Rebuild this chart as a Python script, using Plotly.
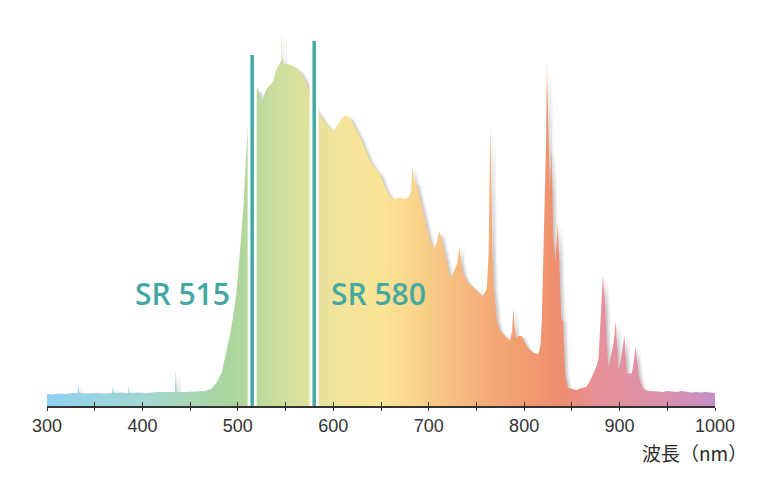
import plotly.graph_objects as go

# spectrum (wavelength nm, relative intensity in arbitrary units)
wavelength = [
    300, 305, 312, 320, 327, 332, 333, 334, 340, 350, 360, 368, 369, 370, 378,
    385, 385.6, 386.5, 395, 405, 415, 425, 434, 435, 436, 445, 455, 465, 472,
    478, 483, 487, 492, 496, 499, 502, 504, 506, 508, 510, 511.5, 513, 515, 517,
    521, 523.5, 525, 527, 530, 534, 537, 539, 541, 544, 545.5, 546, 546.6, 548,
    552, 558, 565, 570, 574, 577, 580, 583, 586, 590, 593, 597, 600, 603, 605,
    608, 610.6, 614, 617.6, 621, 624.6, 630, 635, 638.6, 644, 649, 652, 656,
    660, 663, 667, 671, 675, 679, 681.5, 683, 685, 687.5, 691, 694.5, 698,
    701.5, 704, 706.7, 709, 711, 713, 717, 720, 723, 725.5, 727.6, 730, 732,
    734, 736.4, 740, 743, 747, 750, 754, 757, 761, 762.8, 763.6, 764.6, 765.5,
    766.5, 768, 771.4, 775, 778, 782, 785, 787.5, 788.6, 790, 791.6, 794, 797.6,
    800, 802.8, 806, 809.7, 815, 817, 818.5, 820, 821, 822, 823, 823.8, 824.6,
    825.5, 827, 827.8, 828.6, 829.5, 830.6, 833, 834.3, 835.3, 836.5, 837.7,
    839, 840.5, 842, 843, 846, 850, 855, 860, 865, 869, 872.6, 876, 878, 880.4,
    882.5, 885, 886.5, 888.4, 890, 892, 894, 896, 897.5, 899, 901, 902.5, 905,
    906.5, 907.7, 910, 912.9, 915, 917, 919, 920, 922.5, 925, 930, 935, 940,
    945, 950, 955, 960, 965, 970, 975, 980, 985, 990, 995, 1000, 1002,
]
intensity = [
    12, 11.5, 12.5, 12, 13, 13, 21, 13, 12.5, 13, 12.5, 13, 20, 13, 13.5,
    13, 21, 13, 13.5, 13, 14, 14, 14, 36, 14, 14, 14.5, 15, 17,
    24, 33, 52, 72, 95, 118, 152, 175, 202, 240, 280, 298, 305, 310, 313,
    318, 309, 303, 310, 317, 321, 325, 332, 338, 343, 345, 373, 350, 342,
    342, 340, 335, 327, 318, 308, 300, 295, 292, 285, 282, 277, 275, 279, 282,
    287, 290, 290, 288, 282, 275, 265, 253, 245, 237, 232, 225, 215,
    209, 207, 208, 208, 207, 209, 215, 240, 225, 222, 207, 192, 177,
    165, 160, 158, 167, 175, 169, 152, 140, 127, 133, 137, 143, 160,
    143, 132, 125, 122, 118, 115, 112, 110, 118, 155, 242, 280, 235,
    165, 118, 85, 75, 72, 68, 65, 75, 98, 80, 68, 70, 70,
    65, 60, 56, 53, 52, 60, 85, 138, 175, 208, 265, 342, 305,
    258, 218, 235, 258, 215, 168, 145, 165, 183, 155, 118,
    85, 88, 50, 32, 18, 17, 16, 18, 19, 25, 32, 40, 48, 98,
    130, 102, 65, 38, 45, 53, 65, 85, 60, 35, 45, 53, 70,
    50, 33, 32, 33, 45, 60, 40, 31, 22, 17, 15, 15, 14.5,
    14, 15, 14.5, 14, 15, 14, 13.5, 14, 13.5, 14, 13.5, 13, 12,
]

# filter lines
filter_names = ["SR 515", "SR 580"]
filter_nm = [515, 580]
filter_top = [351, 365]

tick_vals = list(range(300, 1001, 50))
tick_text = [str(v) if v % 100 == 0 else "" for v in tick_vals]

spectrum_colors = [
    [0.0, "#8dd0f0"],
    [0.143, "#a3d7d2"],
    [0.271, "#a8d49c"],
    [0.343, "#cbdd9d"],
    [0.429, "#efe39b"],
    [0.5, "#fce596"],
    [0.571, "#f9cc88"],
    [0.643, "#f5b17b"],
    [0.714, "#f19b70"],
    [0.771, "#ee8d70"],
    [0.829, "#e6909a"],
    [0.929, "#d991ad"],
    [1.0, "#c48fc8"],
]

teal = "#43a8a2"

fig = go.Figure()

# soft drop shadow behind the spectrum
for dx, alpha in [(5, 0.05), (3.5, 0.07), (2, 0.09)]:
    fig.add_trace(go.Scatter(
        x=[w + dx for w in wavelength],
        y=[max(v - 2, 0) for v in intensity],
        mode="lines",
        line=dict(width=0),
        fill="tozeroy",
        fillcolor="rgba(0,0,0,%s)" % alpha,
        hoverinfo="skip",
        showlegend=False,
    ))

fig.add_trace(go.Scatter(
    x=wavelength,
    y=intensity,
    mode="lines",
    line=dict(width=0),
    fill="tozeroy",
    fillgradient=dict(type="horizontal", colorscale=spectrum_colors, start=300, stop=1000),
    showlegend=False,
))

# filter edges: white halo, then teal line
for nm, top in zip(filter_nm, filter_top):
    fig.add_trace(go.Scatter(x=[nm, nm], y=[0, top], mode="lines",
                             line=dict(color="white", width=9), hoverinfo="skip", showlegend=False))
    fig.add_trace(go.Scatter(x=[nm, nm], y=[0, top], mode="lines",
                             line=dict(color=teal, width=3.5), showlegend=False))

fig.add_annotation(x=494, y=113, text=filter_names[0], showarrow=False,
                   xanchor="right", yanchor="middle",
                   font=dict(family="Open Sans", size=30, color=teal, weight=600))
fig.add_annotation(x=596, y=113, text=filter_names[1], showarrow=False,
                   xanchor="left", yanchor="middle",
                   font=dict(family="Open Sans", size=30, color=teal, weight=600))

fig.add_annotation(x=1, xref="paper", xanchor="right", xshift=34,
                   y=0, yref="paper", yanchor="top", yshift=-31,
                   text="波長（nm）", showarrow=False,
                   font=dict(family="Noto Sans CJK JP", size=19, color="#2a2a2a"))

fig.update_layout(
    width=768,
    height=478,
    margin=dict(l=39, r=61, t=23, b=80),
    paper_bgcolor="white",
    plot_bgcolor="white",
    xaxis=dict(
        range=[300, 1000],
        tickvals=tick_vals,
        ticktext=tick_text,
        ticks="outside",
        ticklen=3,
        tickwidth=1.3,
        tickcolor="#333333",
        showline=True,
        linecolor="#333333",
        linewidth=1.6,
        showgrid=False,
        zeroline=False,
        tickfont=dict(family="Liberation Sans", size=18, color="#333333"),
    ),
    xaxis2=dict(
        range=[300, 1000],
        overlaying="x",
        tickvals=tick_vals,
        showticklabels=False,
        ticks="inside",
        ticklen=4,
        tickwidth=1.3,
        tickcolor="#333333",
        showgrid=False,
        zeroline=False,
        anchor="y",
        side="bottom",
    ),
    yaxis=dict(range=[0, 375], visible=False, showgrid=False, zeroline=False),
)

# invisible trace to put xaxis2 in use
fig.add_trace(go.Scatter(x=[300], y=[0], xaxis="x2", mode="markers",
                         marker=dict(opacity=0), hoverinfo="skip", showlegend=False))

fig.write_html("out.html")
